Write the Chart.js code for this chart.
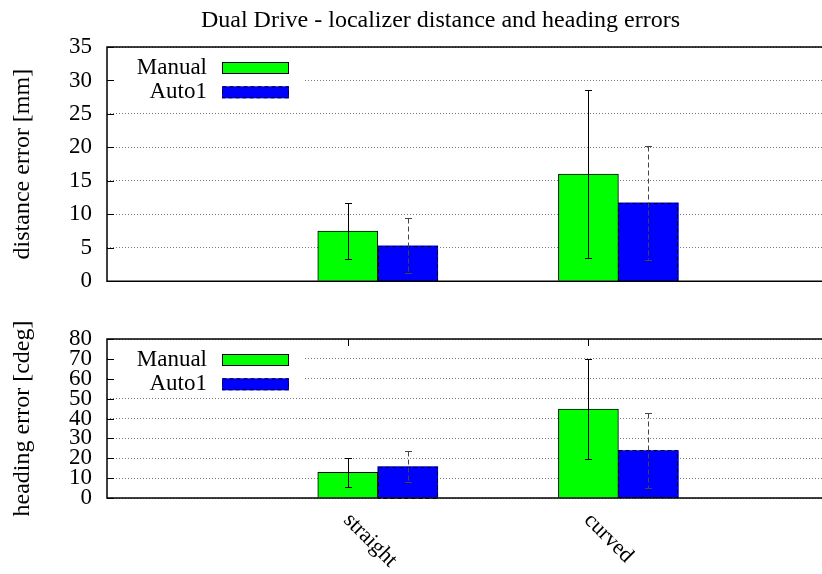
<!DOCTYPE html>
<html>
<head>
<meta charset="utf-8">
<title>Dual Drive - localizer errors</title>
<script src="https://cdn.jsdelivr.net/npm/chart.js@4.4.0/dist/chart.umd.min.js"></script>
<style>
  html, body { margin: 0; padding: 0; background: #fff; overflow: hidden; }
  #page { position: relative; width: 822px; height: 574px; overflow: hidden; }
  .panel { position: absolute; left: 0; }
  #distPanel { top: 0; }
  #headPanel { top: 300px; }
  #title { position: absolute; left: 0; top: 4px; width: 881px; text-align: center;
           font: 24px "Liberation Serif", "Times New Roman", serif; line-height: 30px; color: #000; }
</style>
</head>
<body>
<div id="page">
  <div class="panel" id="distPanel"><canvas id="distChart" width="832" height="310"></canvas></div>
  <div class="panel" id="headPanel"><canvas id="headChart" width="832" height="274"></canvas></div>
  <div id="title">Dual Drive - localizer distance and heading errors</div>
</div>
<script>
// Datos
const categories = ['straight', 'curved'];
const seriesNames = ['Manual', 'Auto1'];

const distManual = [7.5, 16.0];
const distManualErr = [4.25, 12.5];
const distAuto = [5.3, 11.7];
const distAutoErr = [4.1, 8.5];

const headManual = [12.9, 44.7];
const headManualErr = [7.3, 25.3];
const headAuto = [15.8, 23.9];
const headAutoErr = [7.9, 18.9];

const FONT = '"Liberation Serif", "Times New Roman", serif';

function makeDatasets(manual, manualErr, auto, autoErr) {
    return [{
        label: seriesNames[0],
        data: categories.map((c, i) => ({ x: i, y: manual[i] })),
        errors: manualErr,
        backgroundColor: '#00ff00',
        borderColor: '#000',
        borderWidth: 1,
        barThickness: 60,
        errorColor: '#000',
        errorDash: []
    }, {
        label: seriesNames[1],
        data: categories.map((c, i) => ({ x: i, y: auto[i] })),
        errors: autoErr,
        backgroundColor: '#0000ff',
        borderWidth: 0,
        barThickness: 60,
        outlineDash: [4, 3],
        errorColor: '#444',
        errorDash: [5, 3]
    }];
}

// Leyenda, marcas, barras de error y marco al estilo gnuplot
function panelPlugin(showXLabels) {
    return {
        id: 'panelDecor',
        beforeDatasetsDraw(chart) {
            const { ctx, chartArea: a, scales: { y } } = chart;
            ctx.save();
            // hueco de la leyenda
            ctx.fillStyle = '#fff';
            ctx.fillRect(a.left + 1, a.top + 6, 195, 50);

            // marcas del eje y hacia dentro
            ctx.strokeStyle = '#000';
            ctx.lineWidth = 1;
            y.ticks.forEach(t => {
                const py = Math.round(y.getPixelForValue(t.value)) + 0.5;
                ctx.beginPath();
                ctx.moveTo(a.left, py);
                ctx.lineTo(a.left + 7, py);
                ctx.stroke();
            });

            if (showXLabels) {
                const meta = chart.getDatasetMeta(0);
                meta.data.forEach(bar => {
                    const px = Math.round(bar.x) + 0.5;
                    ctx.beginPath();
                    ctx.moveTo(px, a.top);
                    ctx.lineTo(px, a.top + 7);
                    ctx.stroke();
                });
            }

            // leyenda
            ctx.font = '23px ' + FONT;
            ctx.textAlign = 'right';
            ctx.textBaseline = 'middle';
            chart.data.datasets.forEach((ds, i) => {
                const cy = a.top + 21 + i * 24.3;
                ctx.fillStyle = '#000';
                ctx.fillText(ds.label, a.left + 100, cy);
                ctx.fillStyle = ds.backgroundColor;
                ctx.fillRect(a.left + 115, cy - 6, 67, 12);
                ctx.setLineDash(ds.outlineDash || []);
                ctx.strokeStyle = '#000';
                ctx.strokeRect(a.left + 115.5, cy - 5.5, 66, 11);
                ctx.setLineDash([]);
            });
            ctx.restore();
        },
        afterDatasetsDraw(chart) {
            const { ctx, chartArea: a, scales: { y } } = chart;
            ctx.save();
            chart.data.datasets.forEach((ds, di) => {
                const meta = chart.getDatasetMeta(di);
                meta.data.forEach((bar, i) => {
                    // contorno discontinuo
                    if (ds.outlineDash) {
                        ctx.setLineDash(ds.outlineDash);
                        ctx.strokeStyle = '#000';
                        ctx.lineWidth = 1;
                        ctx.strokeRect(Math.round(bar.x - bar.width / 2) + 0.5, Math.round(bar.y) + 0.5,
                            Math.round(bar.width) - 1, Math.round(bar.base - bar.y));
                    }
                    // barra de error
                    const v = ds.data[i].y;
                    const e = ds.errors[i];
                    const yHi = Math.round(y.getPixelForValue(v + e)) + 0.5;
                    const yLo = Math.round(y.getPixelForValue(v - e)) + 0.5;
                    const px = Math.round(bar.x) + 0.5;
                    ctx.strokeStyle = ds.errorColor;
                    ctx.lineWidth = 1;
                    ctx.setLineDash(ds.errorDash);
                    ctx.beginPath();
                    ctx.moveTo(px, yHi);
                    ctx.lineTo(px, yLo);
                    ctx.stroke();
                    ctx.setLineDash([]);
                    ctx.beginPath();
                    ctx.moveTo(px - 3.5, yHi);
                    ctx.lineTo(px + 3.5, yHi);
                    ctx.moveTo(px - 3.5, yLo);
                    ctx.lineTo(px + 3.5, yLo);
                    ctx.stroke();
                });
            });

            // marco
            ctx.setLineDash([]);
            ctx.strokeStyle = '#000';
            ctx.lineWidth = 1.5;
            ctx.beginPath();
            ctx.moveTo(a.right, a.top);
            ctx.lineTo(a.left, a.top);
            ctx.lineTo(a.left, a.bottom);
            ctx.lineTo(a.right, a.bottom);
            ctx.lineTo(a.right, a.top);
            ctx.stroke();

            // etiquetas del eje x giradas
            if (showXLabels) {
                const meta = chart.getDatasetMeta(0);
                ctx.fillStyle = '#000';
                ctx.font = '22px ' + FONT;
                ctx.textAlign = 'left';
                ctx.textBaseline = 'middle';
                meta.data.forEach((bar, i) => {
                    ctx.save();
                    ctx.translate(bar.x - 1, a.bottom + 19);
                    ctx.rotate(Math.PI / 4);
                    ctx.fillText(categories[i], 0, 0);
                    ctx.restore();
                });
            }
            ctx.restore();
        }
    };
}

function makeChart(canvasId, datasets, yMax, yStep, yTitle, padding, showXLabels) {
    return new Chart(document.getElementById(canvasId), {
        type: 'bar',
        data: { datasets: datasets },
        options: {
            responsive: false,
            animation: false,
            layout: { padding: padding },
            plugins: {
                legend: { display: false },
                tooltip: { enabled: false },
                title: { display: false }
            },
            scales: {
                x: {
                    type: 'linear',
                    min: -1.125,
                    max: 1.875,
                    offset: false,
                    ticks: { display: false },
                    grid: { display: false, drawTicks: false },
                    border: { display: false }
                },
                y: {
                    min: 0,
                    max: yMax,
                    ticks: {
                        stepSize: yStep,
                        autoSkip: false,
                        padding: 15,
                        color: '#000',
                        font: { family: FONT, size: 23 }
                    },
                    grid: { color: '#777', lineWidth: 1, drawTicks: false },
                    border: { display: false, dash: [1, 2] },
                    title: {
                        display: true,
                        text: yTitle,
                        color: '#000',
                        font: { family: FONT, size: 24 },
                        padding: { top: 8.5, bottom: 0 }
                    },
                    afterFit: s => { s.width = 107; }
                }
            }
        },
        plugins: [panelPlugin(showXLabels)]
    });
}

// la etiqueta "0" pide ~29px abajo, por eso el lienzo superior es mas alto
makeChart('distChart', makeDatasets(distManual, distManualErr, distAuto, distAutoErr),
    35, 5, 'distance error [mm]', { top: 47, right: 3, bottom: 28, left: 0 }, false);
makeChart('headChart', makeDatasets(headManual, headManualErr, headAuto, headAutoErr),
    80, 10, 'heading error [cdeg]', { top: 39, right: 3, bottom: 76, left: 0 }, true);
</script>
</body>
</html>
